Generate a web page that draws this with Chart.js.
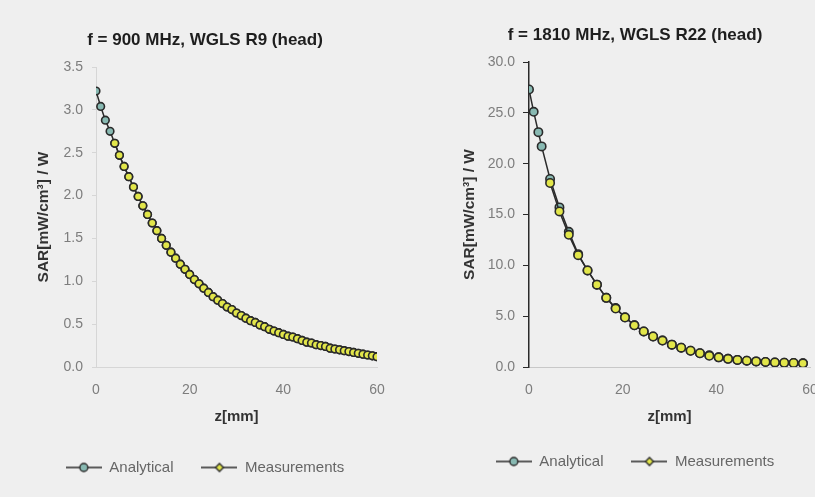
<!DOCTYPE html>
<html>
<head>
<meta charset="utf-8">
<script src="https://cdn.jsdelivr.net/npm/chart.js@4.4.1/dist/chart.umd.min.js"></script>
<style>
  html, body { margin: 0; padding: 0; background: #efefef; overflow: hidden; width: 815px; height: 497px; }
  canvas { position: absolute; top: 0; }
  #chartLeft { left: 0; }
  #chartRight { left: 405px; }
</style>
</head>
<body>
<canvas id="chartLeft" width="410" height="497"></canvas>
<canvas id="chartRight" width="460" height="497"></canvas>
<script>
// 900 MHz (left)
const zLeft = [0, 1, 2, 3, 4, 5, 6, 7, 8, 9, 10, 11, 12, 13, 14, 15, 16, 17, 18, 19, 20,
  21, 22, 23, 24, 25, 26, 27, 28, 29, 30, 31, 32, 33, 34, 35, 36, 37, 38, 39, 40,
  41, 42, 43, 44, 45, 46, 47, 48, 49, 50, 51, 52, 53, 54, 55, 56, 57, 58, 59, 60];
const sarAnalyticalLeft = [3.22, 3.04, 2.88, 2.75, 2.61, 2.47, 2.34, 2.22, 2.10, 1.99, 1.88,
  1.78, 1.68, 1.59, 1.50, 1.42, 1.34, 1.27, 1.20, 1.14, 1.08,
  1.02, 0.97, 0.92, 0.87, 0.82, 0.78, 0.74, 0.70, 0.67, 0.63,
  0.60, 0.57, 0.54, 0.52, 0.49, 0.47, 0.44, 0.42, 0.40, 0.38,
  0.36, 0.35, 0.33, 0.31, 0.29, 0.28, 0.26, 0.25, 0.24, 0.22,
  0.21, 0.20, 0.19, 0.18, 0.17, 0.16, 0.15, 0.14, 0.13, 0.12];
const sarMeasuredLeft = [null, null, null, null, 2.61, 2.47, 2.34, 2.22, 2.10, 1.99, 1.88,
  1.78, 1.68, 1.59, 1.50, 1.42, 1.34, 1.27, 1.20, 1.14, 1.08,
  1.02, 0.97, 0.92, 0.87, 0.82, 0.78, 0.74, 0.70, 0.67, 0.63,
  0.60, 0.57, 0.54, 0.52, 0.49, 0.47, 0.44, 0.42, 0.40, 0.38,
  0.36, 0.35, 0.33, 0.31, 0.29, 0.28, 0.26, 0.25, 0.24, 0.22,
  0.21, 0.20, 0.19, 0.18, 0.17, 0.16, 0.15, 0.14, 0.13, 0.12];
const yTicksLeft = [0, 0.5, 1.0, 1.5, 2.0, 2.5, 3.0, 3.5];

// 1810 MHz (right)
const zAnalyticalRight = [0, 1, 2, 2.7, 4.5, 6.5, 8.5, 10.5, 12.5, 14.5, 16.5, 18.5, 20.5,
  22.5, 24.5, 26.5, 28.5, 30.5, 32.5, 34.5, 36.5, 38.5, 40.5,
  42.5, 44.5, 46.5, 48.5, 50.5, 52.5, 54.5, 56.5, 58.5];
const sarAnalyticalRight = [27.3, 25.1, 23.1, 21.7, 18.5, 15.7, 13.3, 11.1, 9.5, 8.1, 6.8, 5.8, 4.9,
  4.1, 3.5, 3.0, 2.6, 2.2, 1.9, 1.6, 1.35, 1.15, 0.95,
  0.82, 0.70, 0.62, 0.55, 0.50, 0.45, 0.42, 0.39, 0.36];
const zMeasuredRight = [4.5, 6.5, 8.5, 10.5, 12.5, 14.5, 16.5, 18.5, 20.5,
  22.5, 24.5, 26.5, 28.5, 30.5, 32.5, 34.5, 36.5, 38.5, 40.5,
  42.5, 44.5, 46.5, 48.5, 50.5, 52.5, 54.5, 56.5, 58.5];
const sarMeasuredRight = [18.1, 15.3, 13.0, 11.0, 9.5, 8.1, 6.8, 5.75, 4.87,
  4.1, 3.5, 3.0, 2.6, 2.2, 1.9, 1.6, 1.35, 1.1, 0.95,
  0.8, 0.7, 0.62, 0.55, 0.5, 0.45, 0.42, 0.4, 0.36];
const yTicksRight = [0, 5, 10, 15, 20, 25, 30];

const xTicks = [0, 20, 40, 60];

const tealFill = "#88b9b2";
const yellowFill = "#e2e64a";
const darkLine = "#2a2a2a";

Chart.defaults.font.family = "'Liberation Sans', Arial, sans-serif";

function toPoints(xs, ys) {
  return xs.map((x, i) => ({ x: x, y: ys[i] }));
}

// small "line + marker" picture for the legend
function legendIcon(fill, diamond) {
  const c = document.createElement("canvas");
  c.width = 36;
  c.height = 12;
  const ctx = c.getContext("2d");
  ctx.strokeStyle = darkLine;
  ctx.lineWidth = 1.4;
  ctx.beginPath();
  ctx.moveTo(0, 6);
  ctx.lineTo(36, 6);
  ctx.stroke();
  ctx.fillStyle = fill;
  ctx.beginPath();
  if (diamond) {
    ctx.moveTo(18, 2);
    ctx.lineTo(22, 6);
    ctx.lineTo(18, 10);
    ctx.lineTo(14, 6);
    ctx.closePath();
  } else {
    ctx.arc(18, 6, 4, 0, Math.PI * 2);
  }
  ctx.fill();
  ctx.stroke();
  return c;
}

function buildChart(id, o) {
  const iconA = legendIcon(tealFill, false);
  const iconM = legendIcon(yellowFill, true);
  return new Chart(document.getElementById(id), {
    type: "line",
    data: {
      datasets: [
        {
          label: "Analytical",
          data: o.analytical,
          order: 2,
          borderColor: darkLine,
          borderWidth: 1.5,
          pointRadius: o.radius,
          pointBorderWidth: 1.6,
          pointBorderColor: darkLine,
          pointBackgroundColor: tealFill,
        },
        {
          label: "Measurements",
          data: o.measured,
          order: 1,
          borderColor: darkLine,
          borderWidth: 1.5,
          pointRadius: o.radius,
          pointBorderWidth: 1.6,
          pointBorderColor: darkLine,
          pointBackgroundColor: yellowFill,
        },
      ],
    },
    options: {
      responsive: false,
      animation: false,
      layout: { padding: { left: o.side, right: o.side, top: 0, bottom: o.bottom } },
      plugins: {
        tooltip: { enabled: false },
        title: {
          display: true,
          text: o.title,
          color: "#1e1e1e",
          font: { size: 17, weight: "bold" },
          padding: { top: o.titleTop, bottom: 16.6 },
        },
        legend: {
          position: "bottom",
          labels: {
            usePointStyle: true,
            pointStyleWidth: 36,
            padding: 28,
            color: "#666",
            font: { size: 15 },
            generateLabels: () => [
              { text: "Analytical", pointStyle: iconA, fontColor: "#666", datasetIndex: 0 },
              { text: "Measurements", pointStyle: iconM, fontColor: "#666", datasetIndex: 1 },
            ],
          },
        },
      },
      scales: {
        x: {
          type: "linear",
          min: 0,
          max: 60,
          afterBuildTicks: (s) => { s.ticks = xTicks.map((v) => ({ value: v })); },
          afterFit: (s) => { s.height = o.xHeight; },
          grid: { display: false, drawTicks: false },
          border: { color: o.xBorder, width: 1 },
          ticks: { color: "#7d7d7d", font: { size: 14 }, padding: 15, maxRotation: 0 },
          title: {
            display: true,
            text: "z[mm]",
            color: "#333",
            font: { size: 15, weight: "bold" },
            padding: { top: 0, bottom: o.xTitleBottom },
          },
        },
        y: {
          min: 0,
          max: o.yMax,
          afterBuildTicks: (s) => { s.ticks = o.yTicks.map((v) => ({ value: v })); },
          afterFit: (s) => { s.width = o.yWidth; },
          grid: { drawOnChartArea: false, drawTicks: true, tickLength: o.tickLen, color: o.yBorder },
          border: { color: o.yBorder, width: o.yBorderWidth },
          ticks: {
            color: "#7d7d7d",
            font: { size: 14 },
            padding: o.tickPad,
            callback: (v) => v.toFixed(1),
          },
          title: {
            display: true,
            text: "SAR[mW/cm³] / W",
            color: "#333",
            font: { size: 15.5, weight: "bold" },
            padding: { top: o.yTitleTop, bottom: 0 },
          },
        },
      },
    },
  });
}

buildChart("chartLeft", {
  title: "f = 900 MHz, WGLS R9 (head)",
  analytical: toPoints(zLeft, sarAnalyticalLeft),
  measured: toPoints(zLeft, sarMeasuredLeft).filter((p) => p.y !== null),
  yTicks: yTicksLeft,
  yMax: 3.5,
  radius: 3.8,
  side: 33,
  bottom: 12,
  titleTop: 30,
  xHeight: 65,
  xTitleBottom: 6,
  yWidth: 63,
  yTitleTop: 1,
  tickLen: 4,
  tickPad: 9,
  xBorder: "#d6d6d6",
  yBorder: "#d6d6d6",
  yBorderWidth: 1,
});

buildChart("chartRight", {
  title: "f = 1810 MHz, WGLS R22 (head)",
  analytical: toPoints(zAnalyticalRight, sarAnalyticalRight),
  measured: toPoints(zMeasuredRight, sarMeasuredRight),
  yTicks: yTicksRight,
  yMax: 30,
  radius: 4.2,
  side: 55,
  bottom: 18,
  titleTop: 25,
  xHeight: 59,
  xTitleBottom: 0,
  yWidth: 69,
  yTitleTop: 0,
  tickLen: 6,
  tickPad: 8,
  xBorder: "#c8c8c8",
  yBorder: "#2a2a2a",
  yBorderWidth: 1.5,
});
</script>
</body>
</html>
